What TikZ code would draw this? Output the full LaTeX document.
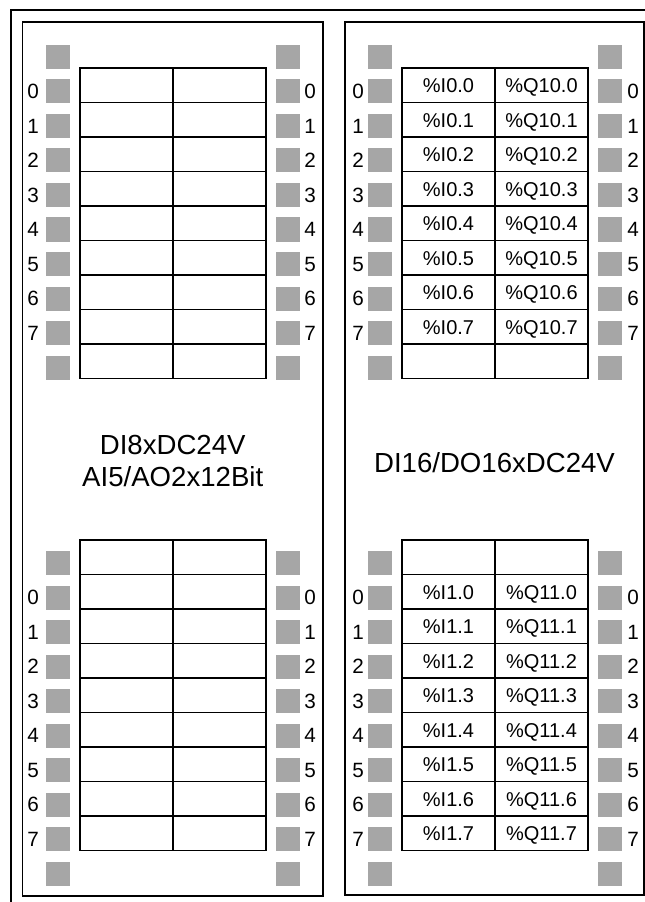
\documentclass[tikz,border=0pt]{standalone}
\usepackage{fontspec}
\setmainfont{Liberation Sans}
\definecolor{sqgray}{HTML}{A6A6A6}
\begin{document}
\begin{tikzpicture}[x=0.75pt,y=-0.75pt,
  sq/.style={fill=sqgray, draw=none, minimum size=18pt, inner sep=0pt},
  cell/.style={draw, line width=1.2pt, minimum width=69.75pt, minimum height=25.875pt, inner sep=0pt, text height=11pt, text depth=0pt, font=\fontsize{15}{17}\selectfont},
  lbl/.style={inner sep=0pt, font=\fontsize{15.5}{18}\selectfont},
  panel/.style={draw, line width=1.2pt, inner sep=0pt},
  title/.style={inner sep=0pt, align=center, font=\fontsize{20.7}{24}\selectfont}]
\useasboundingbox (0,0) rectangle (645,902);
% outer frame
\coordinate (oa) at (11,902);
\coordinate (ob) at (11,10);
\coordinate (oc) at (645,10);
\draw[line width=1pt] (oa) -- (ob) -- (oc);
% panels
\node[panel, minimum width=225.4pt, minimum height=655.5pt] (LP) at (172.75,459) {};
\node[panel, minimum width=224.25pt, minimum height=654.75pt] (RP) at (494.5,458.5) {};
% titles
\node[title] (LT) at (172.75,461) {DI8xDC24V\\AI5/AO2x12Bit};
\node[title] (RT) at (494.5,463) {DI16/DO16xDC24V};
% squares
\foreach \k in {0,...,9} {
  \pgfmathsetmacro\yy{57+34.5*\k}
  \node[sq] (LAa-\k) at (58,\yy) {};
  \node[sq] (LBa-\k) at (288,\yy) {};
  \node[sq] (RAa-\k) at (380,\yy) {};
  \node[sq] (RBa-\k) at (610,\yy) {};
  \pgfmathsetmacro\yb{563+34.5*\k}
  \node[sq] (LAb-\k) at (58,\yb) {};
  \node[sq] (LBb-\k) at (288,\yb) {};
  \node[sq] (RAb-\k) at (380,\yb) {};
  \node[sq] (RBb-\k) at (610,\yb) {};
}
% labels
\foreach \k [evaluate=\k as \n using int(\k-1)] in {1,...,8} {
  \pgfmathsetmacro\yy{57+34.5*\k}
  \node[lbl] (LLa-\k) at (33,\yy) {\n};
  \node[lbl] (LRa-\k) at (310,\yy) {\n};
  \node[lbl] (RLa-\k) at (358,\yy) {\n};
  \node[lbl] (RRa-\k) at (633,\yy) {\n};
  \pgfmathsetmacro\yb{563+34.5*\k}
  \node[lbl] (LLb-\k) at (33,\yb) {\n};
  \node[lbl] (LRb-\k) at (310,\yb) {\n};
  \node[lbl] (RLb-\k) at (358,\yb) {\n};
  \node[lbl] (RRb-\k) at (633,\yb) {\n};
}
% tables
\foreach \r in {0,...,8} {
  \pgfmathsetmacro\yy{85.25+34.5*\r}
  \pgfmathsetmacro\yb{557.25+34.5*\r}
  \node[cell] (LTa-\r-1) at (126.5,\yy) {};
  \node[cell] (LTa-\r-2) at (219.5,\yy) {};
  \node[cell] (LTb-\r-1) at (126.5,\yb) {};
  \node[cell] (LTb-\r-2) at (219.5,\yb) {};
}
\foreach \r in {0,...,7} {
  \pgfmathsetmacro\yy{85.25+34.5*\r}
  \node[cell] (RTa-\r-1) at (448.5,\yy) {\%I0.\r};
  \node[cell] (RTa-\r-2) at (541.5,\yy) {\%Q10.\r};
}
\node[cell] (RTa-8-1) at (448.5,361.25) {};
\node[cell] (RTa-8-2) at (541.5,361.25) {};
\node[cell] (RTb-0-1) at (448.5,557.25) {};
\node[cell] (RTb-0-2) at (541.5,557.25) {};
\foreach \r [evaluate=\r as \n using int(\r-1)] in {1,...,8} {
  \pgfmathsetmacro\yb{557.25+34.5*\r}
  \node[cell] (RTb-\r-1) at (448.5,\yb) {\%I1.\n};
  \node[cell] (RTb-\r-2) at (541.5,\yb) {\%Q11.\n};
}
\end{tikzpicture}
\end{document}
